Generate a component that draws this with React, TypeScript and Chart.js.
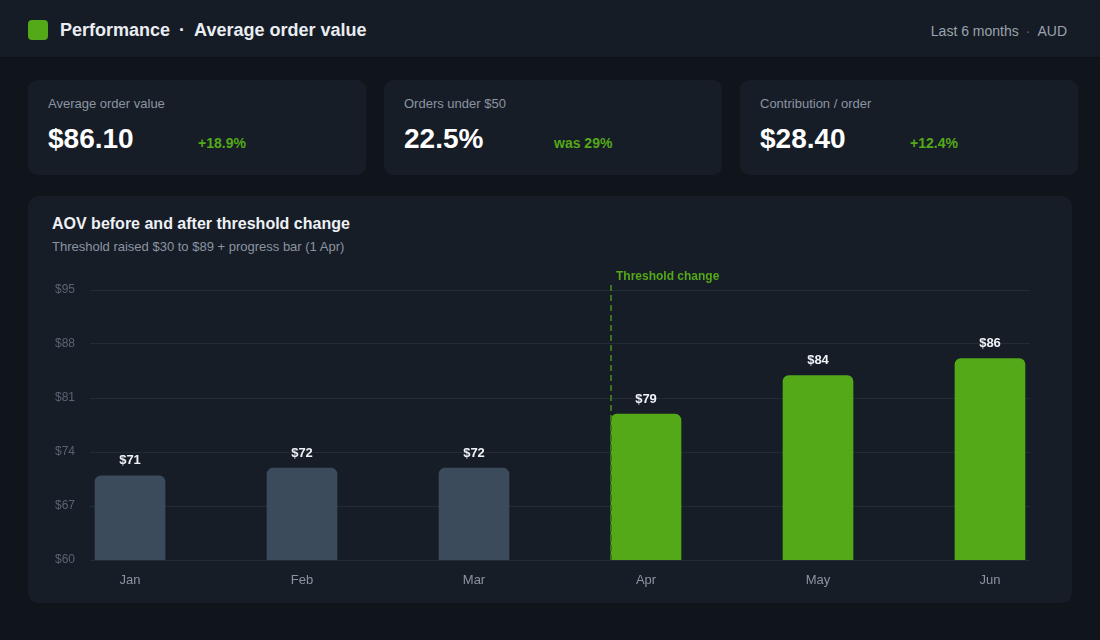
import React, { useEffect, useRef } from "react";
import { Chart, registerables } from "chart.js";

Chart.register(...registerables);

const MONTHS = ["Jan", "Feb", "Mar", "Apr", "May", "Jun"];
const AOV = [70.9, 71.9, 71.9, 78.9, 83.9, 86.1];
const THRESHOLD_INDEX = 3;
const Y_MIN = 60;
const Y_MAX = 95;
const Y_STEP = 7;

const KPI_LABELS = ["Average order value", "Orders under $50", "Contribution / order"];
const KPI_VALUES = ["$86.10", "22.5%", "$28.40"];
const KPI_DELTAS = ["+18.9%", "was 29%", "+12.4%"];

const FONT = '"Liberation Sans", Arial, Helvetica, sans-serif';
const GREEN = "#53a918";
const GRAY_BAR = "#3b4b5b";
const PAGE_BG = "#10141b";
const CARD_BG = "#171d27";

function AovChart() {
  const ref = useRef<HTMLCanvasElement | null>(null);
  useEffect(() => {
    if (!ref.current) return;
    const labelPlugin = {
      id: "barLabels",
      afterDatasetsDraw(chart: any) {
        const ctx = chart.ctx;
        const meta = chart.getDatasetMeta(0);
        ctx.save();
        ctx.font = `bold 13px ${FONT}`;
        ctx.fillStyle = "#eef1f5";
        ctx.textAlign = "center";
        ctx.textBaseline = "middle";
        meta.data.forEach((el: any, i: number) => {
          ctx.fillText(`$${Math.round(AOV[i])}`, el.x, el.y - 15);
        });
        // threshold line
        const bar = meta.data[THRESHOLD_INDEX] as any;
        const x = bar.x - bar.width / 2;
        const area = chart.chartArea;
        ctx.strokeStyle = "#3c731f";
        ctx.lineWidth = 2;
        ctx.setLineDash([6, 4]);
        ctx.beginPath();
        ctx.moveTo(x, area.top - 5);
        ctx.lineTo(x, area.bottom);
        ctx.stroke();
        ctx.setLineDash([]);
        ctx.font = `bold 12px ${FONT}`;
        ctx.fillStyle = GREEN;
        ctx.textAlign = "left";
        ctx.fillText("Threshold change", x + 5, area.top - 13);
        ctx.restore();
      },
    };
    const chart = new Chart(ref.current, {
      type: "bar",
      data: {
        datasets: [
          {
            data: AOV.map((v, i) => ({ x: i, y: v })),
            backgroundColor: AOV.map((_, i) => (i < THRESHOLD_INDEX ? GRAY_BAR : GREEN)),
            barThickness: 70,
            borderRadius: 6,
            borderSkipped: false,
          },
        ],
      },
      options: {
        animation: false,
        responsive: false,
        layout: { padding: { top: 29, right: 20, left: 0, bottom: 0 } },
        plugins: { legend: { display: false }, tooltip: { enabled: false } },
        scales: {
          x: {
            type: "linear",
            offset: false,
            min: -0.2326,
            max: 5.2326,
            grid: { display: false, drawTicks: false },
            border: { display: false },
            afterBuildTicks: (axis: any) => {
              axis.ticks = MONTHS.map((_, i) => ({ value: i }));
            },
            afterFit: (scale: any) => {
              scale.height = 41;
            },
            ticks: {
              autoSkip: false,
              maxRotation: 0,
              padding: 13,
              color: "#8a94a1",
              font: { family: FONT, size: 13 },
              callback: (v: any) => MONTHS[Math.round(Number(v))] ?? "",
            },
          },
          y: {
            min: Y_MIN,
            max: Y_MAX,
            grid: { color: "#232b36", lineWidth: 1, drawTicks: false },
            border: { display: false },
            afterFit: (scale: any) => {
              scale.width = 50;
            },
            ticks: {
              stepSize: Y_STEP,
              padding: 15,
              color: "#586372",
              font: { family: FONT, size: 12 },
              callback: (v: any) => `$${v}`,
            },
          },
        },
      },
      plugins: [labelPlugin],
    } as any);
    return () => chart.destroy();
  }, []);
  return <canvas ref={ref} width={1010} height={340} style={{ display: "block" }} />;
}

export default function App() {
  return (
    <div
      style={{
        position: "fixed",
        left: 0,
        top: 0,
        width: 1100,
        height: 640,
        background: PAGE_BG,
        fontFamily: FONT,
        overflow: "hidden",
      }}
    >
      {/* header */}
      <div
        style={{
          position: "absolute",
          left: 0,
          top: 0,
          width: 1100,
          height: 58,
          background: "#161c25",
          borderBottom: "1px solid #0d1016",
          boxSizing: "border-box",
        }}
      >
        <div
          style={{
            position: "absolute",
            left: 28,
            top: 20,
            width: 20,
            height: 20,
            borderRadius: 4,
            background: GREEN,
          }}
        />
        <div
          style={{
            position: "absolute",
            left: 60,
            top: 19,
            fontSize: 18,
            fontWeight: 700,
            color: "#e9edf2",
            whiteSpace: "nowrap",
            lineHeight: "22px",
          }}
        >
          Performance<span style={{ margin: "0 9px" }}>·</span>Average order value
        </div>
        <div
          style={{
            position: "absolute",
            right: 33,
            top: 22,
            fontSize: 14,
            color: "#9aa3ae",
            whiteSpace: "nowrap",
            lineHeight: "18px",
          }}
        >
          Last 6 months<span style={{ margin: "0 7px", color: "#5d6673" }}>·</span>AUD
        </div>
      </div>

      {/* KPI cards */}
      {KPI_LABELS.map((label, i) => (
        <div
          key={label}
          style={{
            position: "absolute",
            left: 28 + i * 356,
            top: 80,
            width: 338,
            height: 95,
            borderRadius: 9,
            background: CARD_BG,
          }}
        >
          <div
            style={{
              position: "absolute",
              left: 20,
              top: 16,
              fontSize: 13,
              color: "#8b95a2",
              lineHeight: "16px",
              whiteSpace: "nowrap",
            }}
          >
            {label}
          </div>
          <div
            style={{
              position: "absolute",
              left: 20,
              top: 42,
              fontSize: 28,
              fontWeight: 700,
              color: "#ffffff",
              lineHeight: "34px",
              whiteSpace: "nowrap",
            }}
          >
            {KPI_VALUES[i]}
          </div>
          <div
            style={{
              position: "absolute",
              left: 170,
              top: 55,
              fontSize: 14,
              fontWeight: 700,
              color: GREEN,
              lineHeight: "17px",
              whiteSpace: "nowrap",
            }}
          >
            {KPI_DELTAS[i]}
          </div>
        </div>
      ))}

      {/* chart card */}
      <div
        style={{
          position: "absolute",
          left: 28,
          top: 196,
          width: 1044,
          height: 407,
          borderRadius: 10,
          background: CARD_BG,
        }}
      >
        <div
          style={{
            position: "absolute",
            left: 24,
            top: 19,
            fontSize: 16,
            fontWeight: 700,
            color: "#eef1f5",
            lineHeight: "18px",
            whiteSpace: "nowrap",
          }}
        >
          AOV before and after threshold change
        </div>
        <div
          style={{
            position: "absolute",
            left: 24,
            top: 43,
            fontSize: 13,
            color: "#8a94a1",
            lineHeight: "16px",
            whiteSpace: "nowrap",
          }}
        >
          Threshold raised $30 to $89 + progress bar (1 Apr)
        </div>
        <div style={{ position: "absolute", left: 12, top: 65 }}>
          <AovChart />
        </div>
      </div>
    </div>
  );
}
